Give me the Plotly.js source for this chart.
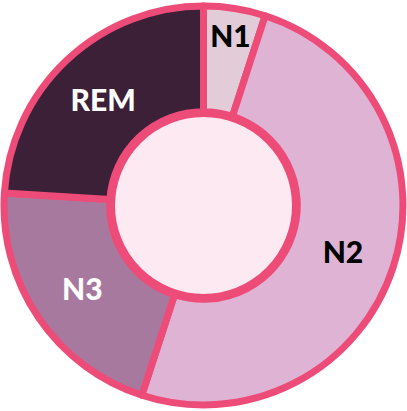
<!DOCTYPE html>
<html>
<head>
<meta charset="utf-8">
<script src="https://cdn.plot.ly/plotly-3.0.1.min.js"></script>
<style>html,body{margin:0;padding:0;background:#fff;}#chart{width:407px;height:411px;}</style>
</head>
<body>
<div id="chart"></div>
<script>
const stages = ["N1", "N2", "N3", "REM"];
const shares = [5, 50, 21, 24];
const sliceColors = ["#e2ccd8", "#dfb3d4", "#a8799f", "#3b2038"];
const textColors = ["#000000", "#000000", "#ffffff", "#ffffff"];

const trace = {
  type: "pie",
  labels: stages,
  values: shares,
  sort: false,
  direction: "clockwise",
  rotation: 0,
  hole: 0.47,
  textinfo: "label",
  textposition: "inside",
  insidetextorientation: "horizontal",
  insidetextfont: {family: "Lato, 'Open Sans', sans-serif", size: 30, color: textColors, weight: 900},
  marker: {colors: sliceColors, line: {color: "#ee4c78", width: 7}},
  showlegend: false,
  hoverinfo: "none"
};

const layout = {
  width: 407,
  height: 411,
  margin: {l: 4, r: 4, t: 4, b: 4},
  paper_bgcolor: "#ffffff",
  shapes: [{
    type: "circle", xref: "paper", yref: "paper", layer: "below",
    x0: 0.5 - 92/399, x1: 0.5 + 92/399, y0: 0.5 - 92/403, y1: 0.5 + 92/403,
    fillcolor: "#fde9f2", line: {color: "#ee4c78", width: 7}
  }]
};

Plotly.newPlot("chart", [trace], layout, {displayModeBar: false, staticPlot: true});
</script>
</body>
</html>
